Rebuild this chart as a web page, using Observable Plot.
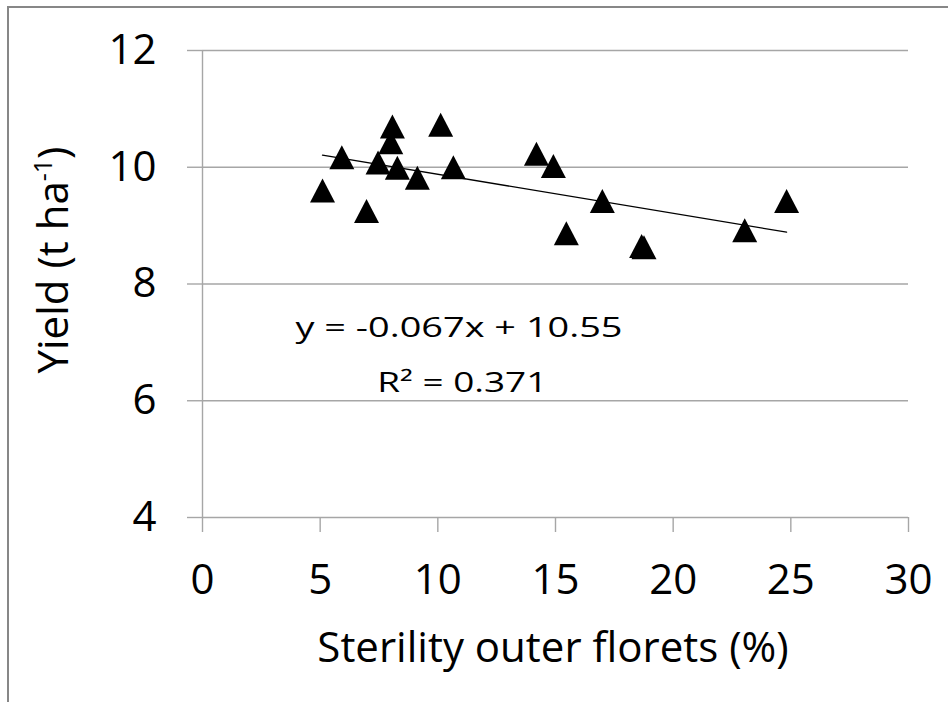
<!DOCTYPE html>
<html><head><meta charset="utf-8">
<script src="https://cdn.jsdelivr.net/npm/d3@7"></script>
<script src="https://cdn.jsdelivr.net/npm/@observablehq/plot@0.6"></script>
<style>
html,body{margin:0;padding:0;background:#fff;}
#wrap{position:relative;width:948px;height:702px;overflow:hidden;}
#chart{position:absolute;left:0;top:0;}
#frame{position:absolute;left:7px;top:6px;width:960px;height:720px;border-left:2px solid #878787;border-top:2px solid #878787;pointer-events:none;}
</style></head><body>
<div id="wrap"><div id="chart"></div><div id="frame"></div></div>
<script>
// Data
const sterility = [5.10, 5.92, 6.97, 7.46, 8.00, 8.07, 8.28, 9.13, 10.12, 10.66, 14.19, 14.91, 15.46, 16.99, 18.66, 18.76, 23.04, 24.82];
const yieldValues = [9.60, 10.17, 9.25, 10.08, 10.43, 10.70, 9.99, 9.82, 10.73, 10.00, 10.23, 10.02, 8.87, 9.42, 8.65, 8.63, 8.92, 9.42];
const xTicks = [0, 5, 10, 15, 20, 25, 30];
const yTicks = [4, 6, 8, 10, 12];
const slope = -0.067;
const intercept = 10.55;
const equationLabel = "y = -0.067x + 10.55";
const r2Label = "R² = 0.371";
const xTitle = "Sterility outer florets (%)";
const yTitleParts = ["Yield (t ha", "-1", ")"];

const points = sterility.map((x, i) => ({x, y: yieldValues[i]}));
const xMin = d3.min(sterility), xMax = d3.max(sterility);
const fitLine = [xMin, xMax].map(x => ({x, y: intercept + slope * x}));
const eqAnchor = {x: 10.90, y: 7.24, width: 327};
const r2Anchor = {x: 11.04, y: 6.30, width: 170};

const grey = "#a6a6a6";
const triangleMarker = {
  draw(ctx) { ctx.moveTo(0, -12); ctx.lineTo(12.5, 12); ctx.lineTo(-12.5, 12); ctx.closePath(); }
};

const W = 948, H = 702, mL = 202, mR = 40, mT = 50, mB = 185;
const FS = 42;
const chart = Plot.plot({
  width: W, height: H,
  marginLeft: mL, marginRight: mR, marginTop: mT, marginBottom: mB,
  style: {fontFamily: "'Open Sans', sans-serif", fontSize: FS + "px", color: "#000", background: "transparent", overflow: "visible"},
  x: {domain: [0, 30], ticks: xTicks},
  y: {domain: [4, 12], ticks: yTicks},
  marks: [
    Plot.gridY(yTicks, {stroke: grey, strokeOpacity: 1, strokeWidth: 1.4}),
    Plot.ruleX([0], {y1: 4, y2: 12, stroke: grey, strokeWidth: 1.4}),
    Plot.axisY(yTicks, {tickSize: 15, tickPadding: 31, stroke: grey, strokeOpacity: 1, strokeWidth: 1.4, fill: "#000", fontSize: FS, label: null, tickFormat: d => String(d)}),
    Plot.axisX(xTicks, {tickSize: 15, tickPadding: 32, stroke: grey, strokeOpacity: 1, strokeWidth: 1.4, fill: "#000", fontSize: FS, label: null, tickFormat: d => String(d)}),
    Plot.line(fitLine, {x: "x", y: "y", stroke: "#000", strokeWidth: 1.3}),
    Plot.dot(points, {x: "x", y: "y", symbol: triangleMarker, fill: "#000", stroke: "none"}),
    Plot.text([equationLabel], {x: () => eqAnchor.x, y: () => eqAnchor.y, text: d => d, fontSize: 27, fill: "#000", textAnchor: "middle", className: "eq-label"}),
    Plot.text([r2Label], {x: () => r2Anchor.x, y: () => r2Anchor.y, text: d => d, fontSize: 27, fill: "#000", textAnchor: "middle", className: "r2-label"})
  ]
});
document.getElementById("chart").appendChild(chart);

const svg = d3.select(chart);
// the reference's equation box is drawn horizontally stretched
svg.selectAll(".eq-label text").attr("textLength", eqAnchor.width).attr("lengthAdjust", "spacingAndGlyphs");
svg.selectAll(".r2-label text").attr("textLength", r2Anchor.width).attr("lengthAdjust", "spacingAndGlyphs");

const xs = chart.scale("x");
const xCenter = (xs.apply(0) + xs.apply(30)) / 2;
svg.append("text")
  .attr("x", xCenter - 2).attr("y", H - mB + 145)
  .attr("text-anchor", "middle").attr("font-size", FS).attr("fill", "#000")
  .text(xTitle);
const yt = svg.append("text")
  .attr("transform", `translate(68,${mT + 210}) rotate(-90)`)
  .attr("text-anchor", "middle").attr("font-size", FS).attr("fill", "#000");
yt.append("tspan").text(yTitleParts[0]);
yt.append("tspan").attr("font-size", 25).attr("dy", -16).text(yTitleParts[1]);
yt.append("tspan").attr("dy", 16).text(yTitleParts[2]);
</script>
</body></html>
